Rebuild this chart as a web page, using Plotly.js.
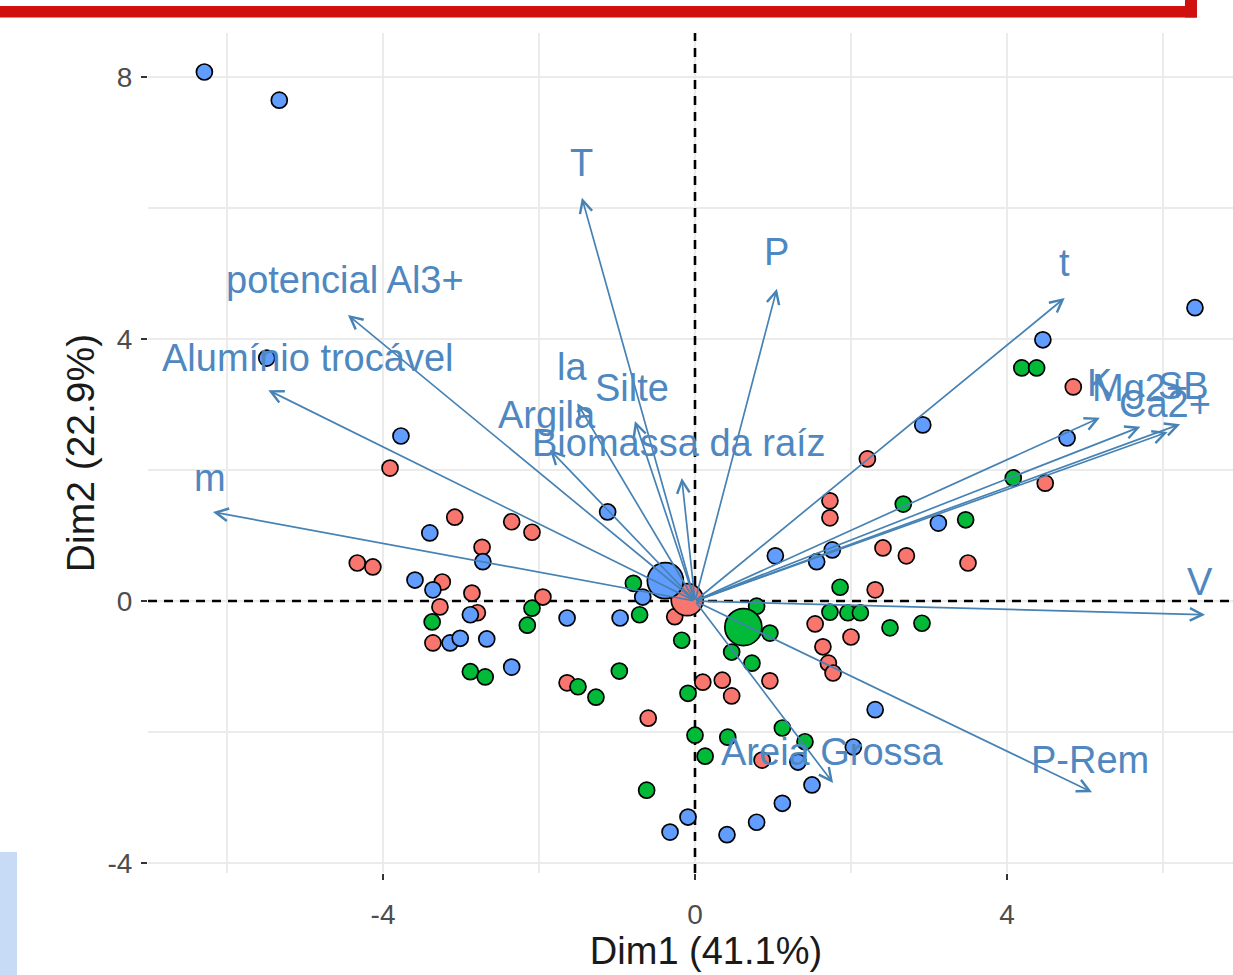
<!DOCTYPE html>
<html>
<head>
<meta charset="utf-8">
<script src="https://cdn.plot.ly/plotly-3.0.1.min.js"></script>
<style>
html,body{margin:0;padding:0;overflow:hidden;background:#fff;}
#wrap{width:1233px;height:975px;overflow:hidden;position:relative;}
#chart{width:1264px;height:975px;}
</style>
</head>
<body>
<div id="wrap"><div id="chart"></div></div>
<script>
// ---- individuals (Dim1, Dim2) by group ----
const redX  = [-3.91, 4.85, 4.49, 2.21, 1.73, 1.73, 2.41, 2.71, 3.50, 2.31, 1.54, 2.00, 1.64, 1.71, 1.77, 0.10, 0.35, 0.47, 0.96, -3.08, -2.35, -2.09, -2.73, -4.33, -4.13, -3.24, -2.86, -3.27, -2.79, -3.36, -1.95, -1.64, -0.60, -0.26, 0.86];
const redY  = [2.03, 3.27, 1.80, 2.17, 1.53, 1.27, 0.81, 0.69, 0.58, 0.17, -0.35, -0.55, -0.70, -0.95, -1.10, -1.24, -1.21, -1.45, -1.22, 1.28, 1.21, 1.05, 0.82, 0.58, 0.52, 0.29, 0.12, -0.09, -0.18, -0.64, 0.06, -1.25, -1.79, -0.24, -2.43];

const greenX = [4.19, 4.38, 4.08, 2.67, 3.47, 1.86, 1.73, 1.96, 2.12, 2.50, 2.91, 0.79, 0.96, 0.47, 0.73, -0.79, -0.71, -0.17, -2.09, -2.15, -3.37, -2.88, -2.69, -1.50, -1.27, -0.97, -0.09, 0.00, 0.13, 0.42, 1.12, 1.41, -0.62];
const greenY = [3.56, 3.56, 1.88, 1.48, 1.24, 0.21, -0.17, -0.18, -0.18, -0.41, -0.34, -0.08, -0.49, -0.78, -0.95, 0.27, -0.21, -0.60, -0.11, -0.37, -0.32, -1.08, -1.16, -1.31, -1.47, -1.07, -1.41, -2.05, -2.37, -2.08, -1.94, -2.15, -2.89];

const blueX = [-6.29, -5.33, 6.41, -5.49, -3.77, 4.46, 2.92, 4.77, -1.12, 3.12, 1.03, 1.76, 1.56, -3.40, -2.72, -3.59, -3.36, -2.88, -3.14, -3.01, -2.67, -2.35, -1.64, -0.96, -0.67, -0.32, -0.09, 0.41, 0.79, 1.12, 1.50, 1.32, 2.31, 2.03];
const blueY = [8.08, 7.65, 4.48, 3.71, 2.52, 3.99, 2.69, 2.49, 1.36, 1.19, 0.69, 0.78, 0.60, 1.04, 0.60, 0.32, 0.17, -0.21, -0.64, -0.57, -0.58, -1.01, -0.26, -0.26, 0.06, -3.53, -3.30, -3.57, -3.38, -3.09, -2.81, -2.46, -1.66, -2.23];

// ---- group means ----
const meanX = [-0.10, 0.62, -0.38];   // red, green, blue
const meanY = [0.02, -0.40, 0.31];

// ---- variables (arrow tips) ----
const varNames = ["T", "P", "t", "V", "P-Rem", "Areia Grossa", "m", "Alumínio trocável", "potencial Al3+", "Argila", "la", "Silte", "Biomassa da raíz", "K", "Mg2+", "SB", "Ca2+"];
const varX = [-1.45, 1.05, 4.74, 6.54, 5.09, 1.77, -6.18, -5.47, -4.45, -1.86, -1.51, -0.77, -0.17, 5.19, 5.71, 6.22, 6.06];
const varY = [6.16, 4.77, 4.63, -0.21, -2.92, -2.78, 1.36, 3.22, 4.37, 2.31, 3.02, 2.75, 1.88, 2.80, 2.66, 2.70, 2.58];
// label anchor points (data units)
const labX = [-1.45, 1.04, 4.74, 6.47, 5.06, 1.76, -6.22, -4.97, -4.49, -1.90, -1.58, -0.81, -0.21, 5.19, 5.71, 6.26, 6.03];
const labY = [6.69, 5.33, 5.16, 0.29, -2.43, -2.31, 1.88, 3.71, 4.90, 2.84, 3.57, 3.25, 2.41, 3.33, 3.25, 3.28, 3.01];

// ---- axis ranges / ticks ----
const xRange = [-7.013, 7.295];
const yRange = [-4.155, 8.676];
const xTicks = [-4, 0, 4];
const yTicks = [-4, 0, 4, 8];

const COL = {red: "#F8766D", green: "#00BA38", blue: "#619CFF"};
const ARROW = "#4682B4";
const LABEL = "#4F87C0";
const FONT = "Arial, 'Liberation Sans', sans-serif";

function pts(x, y, c, name) {
  return {type: "scatter", mode: "markers", x: x, y: y, name: name, hoverinfo: "x+y",
    marker: {color: c, size: 16, opacity: 1, symbol: "circle", line: {color: "#000", width: 1.7}}};
}
const dashLine = {color: "#000", width: 2.6, dash: "9px,7px"};
const traces = [
  {type: "scatter", mode: "lines", x: [0, 0], y: yRange, line: dashLine, hoverinfo: "skip", name: "v0"},
  {type: "scatter", mode: "lines", x: xRange, y: [0, 0], line: dashLine, hoverinfo: "skip", name: "h0"},
  pts(redX, redY, COL.red, "1"),
  pts(greenX, greenY, COL.green, "2"),
  pts(blueX, blueY, COL.blue, "3"),
  {type: "scatter", mode: "markers", x: meanX, y: meanY, name: "means", hoverinfo: "x+y",
   marker: {color: [COL.red, COL.green, COL.blue], size: [32, 37, 36], opacity: 1, line: {color: "#000", width: 1.7}}}
];

const annotations = [];
varNames.forEach((n, i) => {
  annotations.push({x: varX[i], y: varY[i], ax: 0, ay: 0, xref: "x", yref: "y", axref: "x", ayref: "y",
    text: "", showarrow: true, arrowhead: 5, arrowsize: 1.45, arrowwidth: 1.7, arrowcolor: ARROW,
    standoff: 0, startstandoff: 0});
});
varNames.forEach((n, i) => {
  annotations.push({x: labX[i], y: labY[i], xref: "x", yref: "y", text: n, showarrow: false,
    xanchor: "center", yanchor: "middle", font: {family: FONT, size: 38, color: LABEL}});
});

// plot area in px: left 148, top 33, width 1116, height 840
function px2paperX(p) { return (p - 148) / 1116; }
function px2paperY(p) { return (873 - p) / 840; }

const shapes = [
  // red frame (bottom and right edge of a box above the chart)
  {type: "rect", xref: "paper", yref: "paper", x0: px2paperX(-5), x1: px2paperX(1197), y0: px2paperY(17.5), y1: px2paperY(6),
   fillcolor: "#D0100F", line: {width: 0}, layer: "above"},
  {type: "rect", xref: "paper", yref: "paper", x0: px2paperX(1185), x1: px2paperX(1197), y0: px2paperY(17.5), y1: px2paperY(-5),
   fillcolor: "#D0100F", line: {width: 0}, layer: "above"},
  // light blue box at lower left
  {type: "rect", xref: "paper", yref: "paper", x0: px2paperX(-5), x1: px2paperX(17), y0: px2paperY(980), y1: px2paperY(852),
   fillcolor: "#C7DAF6", line: {width: 0}, layer: "above"}
];

const axisCommon = {
  showgrid: true, gridcolor: "#EBEBEB", gridwidth: 2, zeroline: false, showline: false,
  ticks: "outside", ticklen: 6, tickwidth: 2.2, tickcolor: "#333333",
  tickfont: {family: FONT, size: 28, color: "#4D4D4D"}, tickmode: "array"
};

const layout = {
  width: 1264, height: 975,
  margin: {l: 148, r: 0, t: 33, b: 102},
  paper_bgcolor: "#FFFFFF", plot_bgcolor: "#FFFFFF",
  showlegend: false,
  font: {family: FONT},
  xaxis: Object.assign({}, axisCommon, {
    range: xRange, tickvals: xTicks, ticktext: xTicks.map(String),
    minor: {tickmode: "array", tickvals: [-6, -2, 2, 6], showgrid: true, gridcolor: "#EBEBEB", gridwidth: 2, ticks: ""},
    ticklabelstandoff: 10,
    title: {text: "Dim1 (41.1%)", font: {family: FONT, size: 38, color: "#1A1A1A"}, standoff: 8}
  }),
  yaxis: Object.assign({}, axisCommon, {
    range: yRange, tickvals: yTicks, ticktext: yTicks.map(String),
    minor: {tickmode: "array", tickvals: [-2, 2, 6], showgrid: true, gridcolor: "#EBEBEB", gridwidth: 2, ticks: ""},
    ticklabelstandoff: 3,
    title: {text: "Dim2 (22.9%)", font: {family: FONT, size: 39, color: "#1A1A1A"}, standoff: 0}
  }),
  annotations: annotations,
  shapes: shapes
};

Plotly.newPlot("chart", traces, layout, {displayModeBar: false, staticPlot: true});
</script>
</body>
</html>
